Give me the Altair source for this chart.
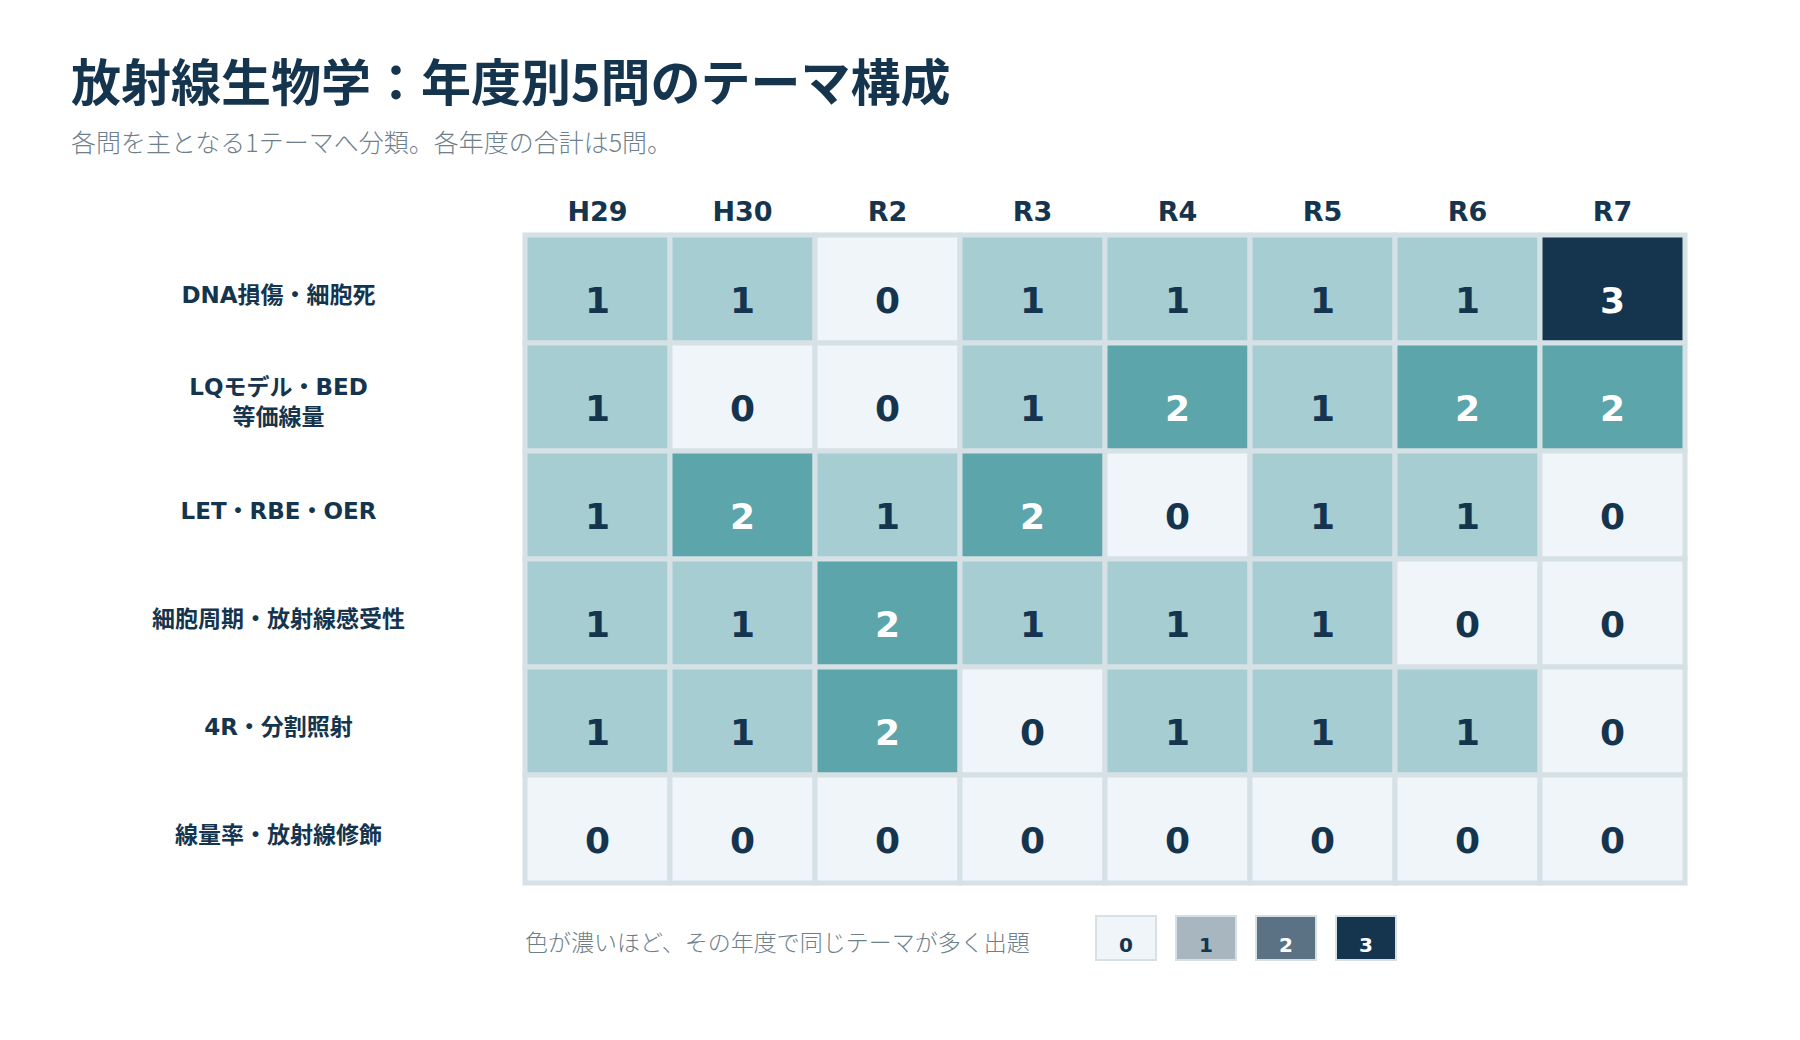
import altair as alt
import pandas as pd

years = ["H29", "H30", "R2", "R3", "R4", "R5", "R6", "R7"]
themes = [
    "DNA損傷・細胞死",
    "LQモデル・BED|等価線量",
    "LET・RBE・OER",
    "細胞周期・放射線感受性",
    "4R・分割照射",
    "線量率・放射線修飾",
]
counts = [
    [1, 1, 0, 1, 1, 1, 1, 3],
    [1, 0, 0, 1, 2, 1, 2, 2],
    [1, 2, 1, 2, 0, 1, 1, 0],
    [1, 1, 2, 1, 1, 1, 0, 0],
    [1, 1, 2, 0, 1, 1, 1, 0],
    [0, 0, 0, 0, 0, 0, 0, 0],
]
levels = [0, 1, 2, 3]
cell_colors = ["#eff5f8", "#a6cdd2", "#5ba5ab", "#15344e"]
legend_colors = ["#eff5f8", "#a8b6c0", "#5b7285", "#15344e"]

title_text = "放射線生物学：年度別5問のテーマ構成"
subtitle_text = "各問を主となる1テーマへ分類。各年度の合計は5問。"
legend_caption = "色が濃いほど、その年度で同じテーマが多く出題"

NAVY = "#15344e"
GRID = "#d5e1e5"
LATIN = "'DejaVu Sans', 'Noto Sans CJK JP', sans-serif"
CJK = "'Noto Sans CJK JP', sans-serif"

rows = []
for ti, t in enumerate(themes):
    for yi, y in enumerate(years):
        rows.append({"theme": t, "year": y, "count": counts[ti][yi]})
df = pd.DataFrame(rows)

leg = pd.DataFrame({"level": levels, "row": ["a"] * len(levels)})
cap = pd.DataFrame({"caption": [legend_caption]})

x_enc = alt.X(
    "year:N",
    sort=years,
    scale=alt.Scale(paddingInner=0, paddingOuter=0),
    axis=alt.Axis(
        orient="top", title=None, domain=False, ticks=False, labelAngle=0,
        labelFontSize=27, labelFontWeight="bold", labelColor=NAVY, labelFont=LATIN,
        labelPadding=9,
    ),
)
y_enc = alt.Y(
    "theme:N",
    sort=themes,
    scale=alt.Scale(paddingInner=0, paddingOuter=0),
    axis=alt.Axis(
        title=None, domain=False, ticks=False,
        labelFontSize=23, labelFontWeight="bold", labelColor=NAVY, labelFont=LATIN,
        labelAlign="center", labelBaseline="middle", labelPadding=247, labelLimit=500,
        labelLineHeight=30, labelExpr="split(datum.label, '|')",
        labelOffset=alt.condition("indexof(datum.value, '|') >= 0", alt.value(-9), alt.value(7)),
    ),
)

cells = alt.Chart(df).mark_rect(stroke=GRID, strokeWidth=5).encode(
    x=x_enc,
    y=y_enc,
    color=alt.Color("count:O", scale=alt.Scale(domain=levels, range=cell_colors), legend=None),
)

nums = alt.Chart(df).mark_text(
    fontSize=36, fontWeight="bold", font=LATIN, baseline="alphabetic", dy=24
).encode(
    x=alt.X("year:N", sort=years),
    y=alt.Y("theme:N", sort=themes),
    text="count:Q",
    color=alt.condition(alt.datum.count >= 2, alt.value("#ffffff"), alt.value(NAVY)),
)

heat = alt.layer(cells, nums)

leg_x = alt.X("level:O", scale=alt.Scale(range=[571, 871], paddingInner=0.25, paddingOuter=0), axis=None)
leg_y = alt.Y("row:N", scale=alt.Scale(range=[681, 725], paddingInner=0, paddingOuter=0), axis=None)

leg_boxes = alt.Chart(leg).mark_rect(stroke=GRID, strokeWidth=2).encode(
    x=leg_x,
    y=leg_y,
    fill=alt.Fill("level:O", scale=alt.Scale(domain=levels, range=legend_colors), legend=None),
)
leg_text = alt.Chart(leg).mark_text(
    fontSize=20, fontWeight="bold", font=LATIN, baseline="alphabetic", dy=14
).encode(
    x=leg_x,
    y=leg_y,
    text="level:Q",
    color=alt.condition(alt.datum.level >= 2, alt.value("#ffffff"), alt.value(NAVY)),
)
cap_text = alt.Chart(cap).mark_text(
    fontSize=23, font=CJK, fontWeight=300, color="#6e7f8c", align="left", baseline="middle"
).encode(
    x=alt.value(0),
    y=alt.value(709),
    text="caption:N",
)

legend_layer = alt.layer(leg_boxes, leg_text).resolve_scale(x="shared", y="shared")

chart = alt.layer(heat, legend_layer, cap_text).resolve_scale(
    x="independent", y="independent", color="independent", fill="independent"
).properties(
    width=1160,
    height=648,
    title=alt.TitleParams(
        text=title_text,
        subtitle=subtitle_text,
        anchor="start",
        frame="group",
        dx=-454,
        offset=41,
        font=CJK,
        fontSize=50,
        fontWeight="bold",
        color=NAVY,
        subtitleFont=CJK,
        subtitleFontSize=25,
        subtitleFontWeight=300,
        subtitleColor="#6e7f8c",
        subtitlePadding=21,
    ),
    autosize=alt.AutoSizeParams(type="none"),
    padding={"left": 517, "top": 227, "right": 100, "bottom": 110},
).configure_view(stroke=None)

chart.save("out.html", embed_options={"renderer": "svg", "actions": False})
